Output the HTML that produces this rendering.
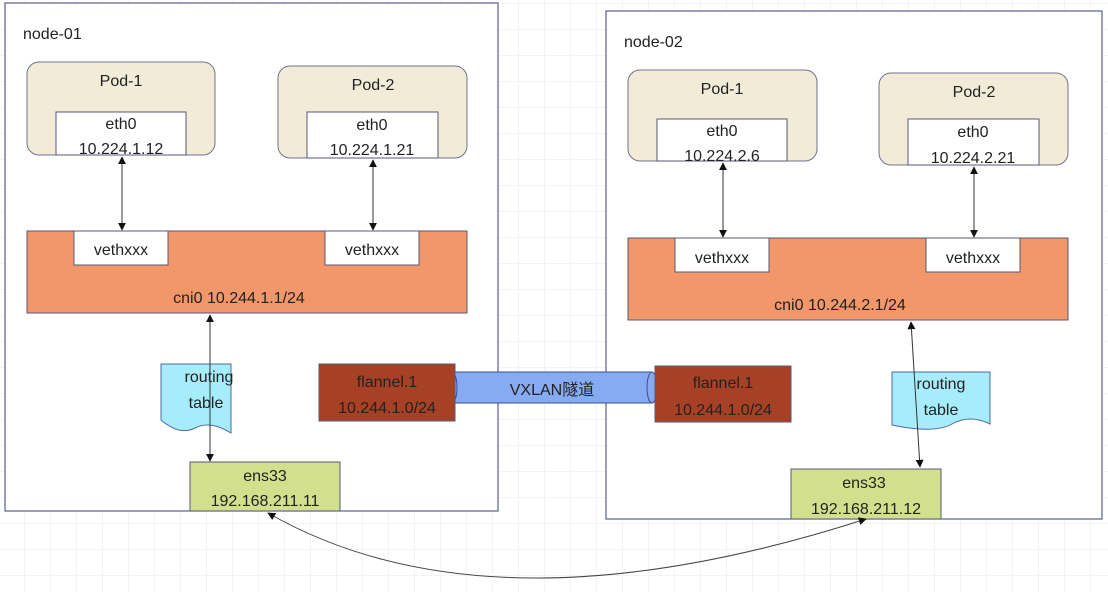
<!DOCTYPE html>
<html><head><meta charset="utf-8"><style>
html,body{margin:0;padding:0;background:#fff;}
svg{display:block;}
text{font-family:"Liberation Sans","Noto Sans CJK SC",sans-serif;font-size:16px;fill:#222;}
</style></head><body>
<svg width="1108" height="592" viewBox="0 0 1108 592" xmlns="http://www.w3.org/2000/svg">
<defs>
<pattern id="g" x="-2" y="3" width="26" height="26" patternUnits="userSpaceOnUse">
<path d="M0 0H26M0 0V26" stroke="#ececec" stroke-width="1.2" fill="none"/>
</pattern>
<marker id="a" viewBox="0 0 10 10" refX="9" refY="5" markerWidth="8" markerHeight="8" orient="auto-start-reverse" markerUnits="userSpaceOnUse"><path d="M0 0L10 5L0 10z" fill="#111"/></marker>
</defs>
<rect width="1108" height="592" fill="url(#g)"/>

<!-- node-01 -->
<rect x="5" y="3" width="493" height="508" fill="#fff" stroke="#5a5f85" stroke-width="1.2"/>
<text x="23" y="39">node-01</text>
<rect x="27" y="62" width="188" height="93" rx="12" fill="#f1ebd8" stroke="#6e7391"/>
<text x="121" y="86" text-anchor="middle">Pod-1</text>
<rect x="56" y="112" width="130" height="43" fill="#fff" stroke="#555a7a"/>
<text x="121" y="129" text-anchor="middle">eth0</text>
<text x="121" y="154" text-anchor="middle">10.224.1.12</text>
<rect x="278" y="66" width="189" height="92" rx="12" fill="#f1ebd8" stroke="#6e7391"/>
<text x="373" y="90" text-anchor="middle">Pod-2</text>
<rect x="307" y="112" width="131" height="46" fill="#fff" stroke="#555a7a"/>
<text x="372" y="130" text-anchor="middle">eth0</text>
<text x="372" y="155" text-anchor="middle">10.224.1.21</text>
<rect x="27" y="231" width="440" height="82" fill="#f2976a" stroke="#555a7a"/>
<rect x="74" y="231" width="94" height="34" fill="#fff" stroke="#555a7a"/>
<text x="121" y="255" text-anchor="middle">vethxxx</text>
<rect x="325" y="231" width="94" height="34" fill="#fff" stroke="#555a7a"/>
<text x="372" y="255" text-anchor="middle">vethxxx</text>
<text x="239" y="303" text-anchor="middle">cni0 10.244.1.1/24</text>
<line x1="122" y1="157" x2="122" y2="230" stroke="#333" marker-start="url(#a)" marker-end="url(#a)"/>
<line x1="373" y1="160" x2="373" y2="230" stroke="#333" marker-start="url(#a)" marker-end="url(#a)"/>
<path d="M161 364H231V433Q210 420 195 428T161 420Z" fill="#a6ecfb" stroke="#4f6aa0"/>
<text x="209" y="382" text-anchor="middle">routing</text>
<text x="206" y="408" text-anchor="middle">table</text>
<line x1="210" y1="315" x2="210" y2="461" stroke="#333" marker-start="url(#a)" marker-end="url(#a)"/>
<rect x="190" y="462" width="150" height="49" fill="#d2df8d" stroke="#555a7a"/>
<text x="265" y="481" text-anchor="middle">ens33</text>
<text x="265" y="506" text-anchor="middle">192.168.211.11</text>

<!-- node-02 -->
<rect x="606" y="11" width="496" height="508" fill="#fff" stroke="#5a5f85" stroke-width="1.2"/>
<text x="624" y="47">node-02</text>
<rect x="628" y="70" width="189" height="91" rx="12" fill="#f1ebd8" stroke="#6e7391"/>
<text x="722" y="94" text-anchor="middle">Pod-1</text>
<rect x="657" y="119" width="130" height="42" fill="#fff" stroke="#555a7a"/>
<text x="722" y="136" text-anchor="middle">eth0</text>
<text x="722" y="161" text-anchor="middle">10.224.2.6</text>
<rect x="879" y="73" width="189" height="92" rx="12" fill="#f1ebd8" stroke="#6e7391"/>
<text x="974" y="97" text-anchor="middle">Pod-2</text>
<rect x="908" y="119" width="131" height="46" fill="#fff" stroke="#555a7a"/>
<text x="973" y="137" text-anchor="middle">eth0</text>
<text x="973" y="163" text-anchor="middle">10.224.2.21</text>
<rect x="628" y="238" width="440" height="82" fill="#f2976a" stroke="#555a7a"/>
<rect x="675" y="238" width="94" height="34" fill="#fff" stroke="#555a7a"/>
<text x="722" y="263" text-anchor="middle">vethxxx</text>
<rect x="926" y="238" width="94" height="34" fill="#fff" stroke="#555a7a"/>
<text x="973" y="263" text-anchor="middle">vethxxx</text>
<text x="840" y="310" text-anchor="middle">cni0 10.244.2.1/24</text>
<line x1="723" y1="163" x2="723" y2="237" stroke="#333" marker-start="url(#a)" marker-end="url(#a)"/>
<line x1="974" y1="167" x2="974" y2="237" stroke="#333" marker-start="url(#a)" marker-end="url(#a)"/>
<path d="M892 372H990V424Q970 414 952 424T892 425Z" fill="#a6ecfb" stroke="#4f6aa0"/>
<text x="941" y="389" text-anchor="middle">routing</text>
<text x="941" y="415" text-anchor="middle">table</text>
<line x1="911" y1="322" x2="920" y2="467" stroke="#333" marker-start="url(#a)" marker-end="url(#a)"/>
<rect x="791" y="469" width="150" height="50" fill="#d2df8d" stroke="#555a7a"/>
<text x="864" y="488" text-anchor="middle">ens33</text>
<text x="866" y="514" text-anchor="middle">192.168.211.12</text>

<!-- flannel / tunnel -->
<rect x="452" y="372" width="200" height="31" fill="#86abf2" stroke="#3b4f93"/>
<ellipse cx="652" cy="387.5" rx="5" ry="15.5" fill="#86abf2" stroke="#3b4f93"/>
<ellipse cx="452" cy="387.5" rx="5" ry="15.5" fill="#86abf2" stroke="#3b4f93"/>
<text x="552" y="395" text-anchor="middle">VXLAN隧道</text>
<rect x="319" y="364" width="136" height="57" fill="#a64125" stroke="#555a7a"/>
<text x="387" y="387" text-anchor="middle">flannel.1</text>
<text x="387" y="413" text-anchor="middle">10.244.1.0/24</text>
<rect x="655" y="366" width="136" height="56" fill="#a64125" stroke="#555a7a"/>
<text x="723" y="388" text-anchor="middle">flannel.1</text>
<text x="723" y="415" text-anchor="middle">10.244.1.0/24</text>

<path d="M268 513Q490 640 866 519" fill="none" stroke="#444" marker-start="url(#a)" marker-end="url(#a)"/>
</svg>
</body></html>
